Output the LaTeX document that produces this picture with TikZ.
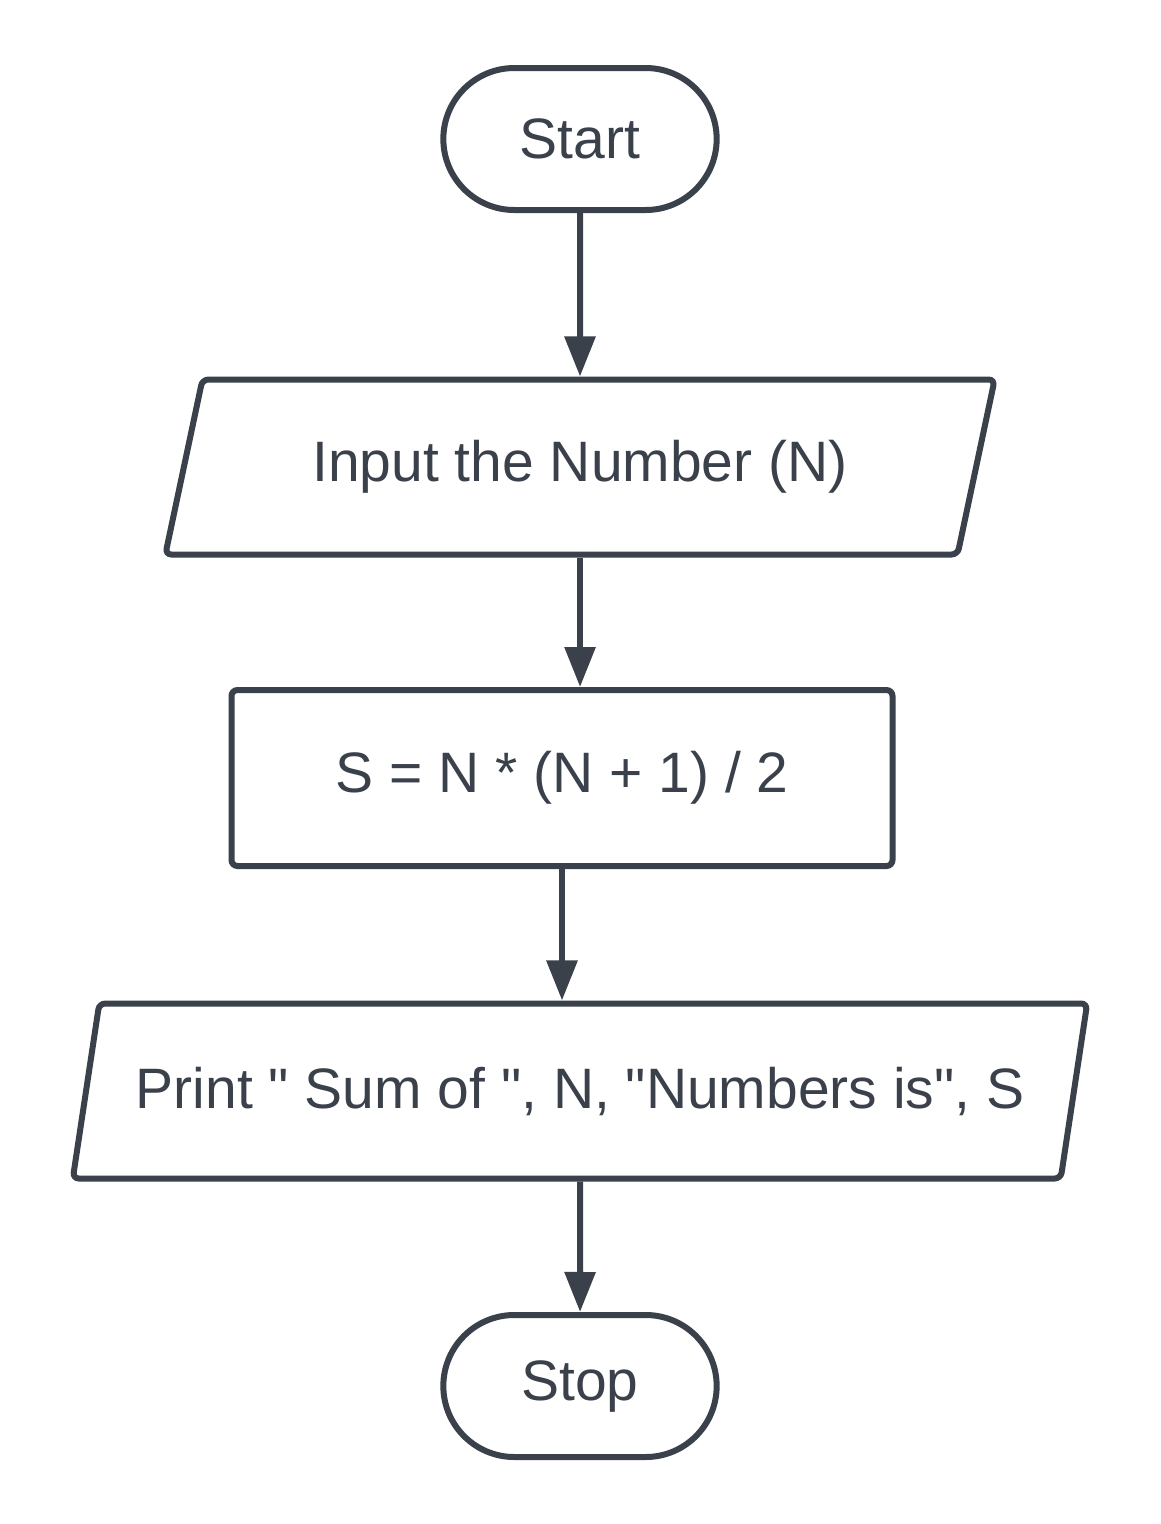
\documentclass[tikz,border=0pt]{standalone}
\usepackage{fontspec}
\setmainfont{Liberation Sans}
\usetikzlibrary{shapes.geometric,shapes.misc,arrows.meta}
\definecolor{inkgray}{HTML}{3A414B}
\tikzset{
  flow/.style={draw=inkgray,line width=6pt,text=inkgray,font=\fontsize{57}{66}\selectfont},
  terminal/.style={flow,rounded rectangle,minimum width=280pt,minimum height=142pt},
  io/.style={flow,trapezium,trapezium left angle=66,trapezium right angle=114,
    trapezium stretches=true,rounded corners=6pt,minimum height=175pt},
  procbox/.style={flow,rectangle,rounded corners=6pt,minimum width=661pt,minimum height=176pt},
  link/.style={draw=inkgray,line width=6pt,-{Triangle[length=40pt,width=30pt]}}
}
\begin{document}
\begin{tikzpicture}[x=1pt,y=-1pt]
\useasboundingbox[fill=white] (0,0) rectangle (1160,1524);
\node[terminal] (start) at (580,139) {Start};
\node[io,minimum width=830pt] (input) at (580,467) {Input the Number (N)};
\node[procbox] (calc) at (562,778) {S = N * (N + 1) / 2};
\node[io,minimum width=1020pt] (print) at (580,1091) {Print \textquotedbl{} Sum of \textquotedbl, N, \textquotedbl{}Numbers is\textquotedbl, S};
\node[terminal] (stop) at (580,1386) {Stop};

\draw[link] (start) -- (input);
\draw[link] (input.south) -- (input.south |- calc.north);
\draw[link] (calc.south) -- (calc.south |- print.north);
\draw[link] (print.south) -- (stop);
\end{tikzpicture}
\end{document}
